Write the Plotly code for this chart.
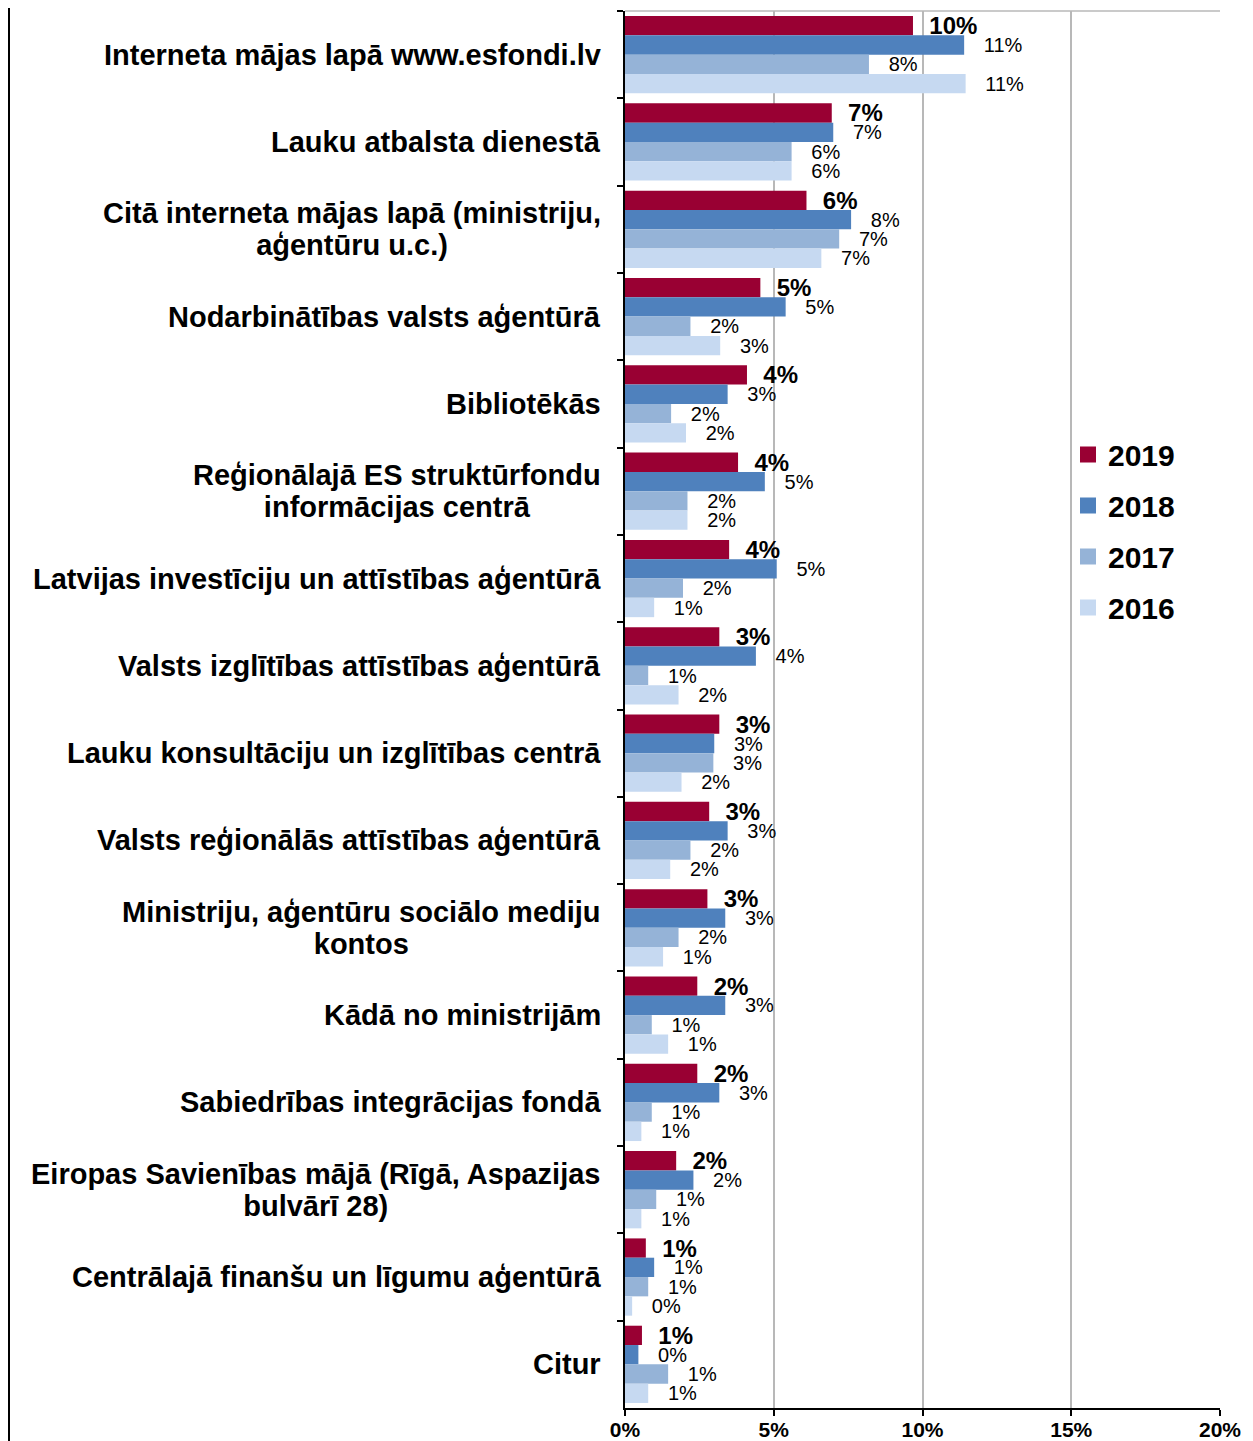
import plotly.graph_objects as go

FONT = 'Liberation Sans, Arial, sans-serif'
C2019 = '#990033'
C2018 = '#4F81BD'
C2017 = '#95B3D7'
C2016 = '#C6D9F1'
GRID = '#B8B8B8'

KATEGORIJAS = [
    'Interneta mājas lapā www.esfondi.lv',
    'Lauku atbalsta dienestā',
    'Citā interneta mājas lapā (ministriju,<br>aģentūru u.c.)',
    'Nodarbinātības valsts aģentūrā',
    'Bibliotēkās',
    'Reģionālajā ES struktūrfondu<br>informācijas centrā',
    'Latvijas investīciju un attīstības aģentūrā',
    'Valsts izglītības attīstības aģentūrā',
    'Lauku konsultāciju un izglītības centrā',
    'Valsts reģionālās attīstības aģentūrā',
    'Ministriju, aģentūru sociālo mediju<br>kontos',
    'Kādā no ministrijām',
    'Sabiedrības integrācijas fondā',
    'Eiropas Savienības mājā (Rīgā, Aspazijas<br>bulvārī 28)',
    'Centrālajā finanšu un līgumu aģentūrā',
    'Citur',
]

V2019 = [9.68, 6.95, 6.1, 4.55, 4.1, 3.8, 3.5, 3.17, 3.17, 2.83, 2.77, 2.43, 2.43, 1.72, 0.7, 0.57]
V2018 = [11.4, 7.0, 7.6, 5.4, 3.45, 4.7, 5.1, 4.4, 3.0, 3.45, 3.37, 3.37, 3.17, 2.3, 0.98, 0.45]
V2017 = [8.2, 5.6, 7.2, 2.2, 1.55, 2.1, 1.95, 0.78, 2.97, 2.2, 1.8, 0.9, 0.9, 1.05, 0.78, 1.45]
V2016 = [11.45, 5.6, 6.6, 3.2, 2.05, 2.1, 0.98, 1.8, 1.9, 1.52, 1.28, 1.45, 0.55, 0.55, 0.24, 0.78]

X_TICKS = [0, 5, 10, 15, 20]

# lapai ir 8px atkāpe, tāpēc viss pārbīdīts par 8px
W, H = 1240, 1433
ML, MR, MT, MB = 617, 28, 3, 33
PW = W - ML - MR
PH = H - MT - MB

series = [
    ('2019', V2019, C2019, True),
    ('2018', V2018, C2018, False),
    ('2017', V2017, C2017, False),
    ('2016', V2016, C2016, False),
]

fig = go.Figure()
for name, vals, col, bold in series:
    pad = '\u00a0\u00a0' if bold else '\u00a0\u00a0\u00a0'
    txt = [pad + f'{v:.0f}%' for v in vals]
    fig.add_trace(go.Bar(
        name=name, y=KATEGORIJAS, x=vals, orientation='h',
        marker=dict(color=col, line=dict(width=0)),
        text=txt, textposition='outside', constraintext='none',
        cliponaxis=False, showlegend=False,
        textfont=dict(family=FONT, size=24 if bold else 20, color='black',
                      weight='bold' if bold else 'normal'),
    ))

# leģendas kvadrātiņi
for name, vals, col, bold in series:
    fig.add_trace(go.Scatter(
        x=[None], y=[None], mode='markers', name=name,
        marker=dict(symbol='square', size=16, color=col),
        legendgroup=name,
    ))

# kategoriju nosaukumi; divrindu tekstiem ciešāka rindstarpa
LBL_FONT = dict(family=FONT, size=29, color='black', weight='bold')
for k in KATEGORIJAS:
    if '<br>' not in k:
        fig.add_annotation(
            x=0, xref='paper', y=k, yref='y', xanchor='right', yanchor='middle',
            xshift=-22, text=k, showarrow=False, align='center', font=LBL_FONT,
        )
        continue
    l1, l2 = k.split('<br>')
    fig.add_annotation(
        x=0, xref='paper', y=k, yref='y', xanchor='right', yanchor='middle',
        xshift=-22, yshift=16, text=l1, showarrow=False, font=LBL_FONT,
    )
    fig.add_annotation(
        x=0, xref='paper', y=k, yref='y', xanchor='right', yanchor='middle',
        xshift=-22, yshift=3, showarrow=False, align='center', font=LBL_FONT,
        text=f'<span style="color:rgba(0,0,0,0)">{l1}</span><br>{l2}',
    )

# augšējā robeža un kreisā rāmja līnija
fig.add_shape(type='line', xref='paper', yref='paper', x0=0, x1=1, y0=1, y1=1,
              line=dict(color=GRID, width=1.5))
fig.add_shape(type='line', xref='paper', yref='paper',
              x0=(1 - ML) / PW, x1=(1 - ML) / PW,
              y0=-(MB + 30) / PH, y1=1 + MT / PH,
              line=dict(color='black', width=2))

fig.update_layout(
    width=W, height=H,
    margin=dict(l=ML, r=MR, t=MT, b=MB, autoexpand=False),
    paper_bgcolor='white', plot_bgcolor='white',
    font=dict(family=FONT, color='black'),
    barmode='group', bargap=0.115, bargroupgap=0,
    showlegend=True,
    legend=dict(x=(1060 - ML) / PW, xanchor='left',
                y=1 - (523 - MT) / PH, yanchor='middle',
                bgcolor='rgba(0,0,0,0)', traceorder='grouped',
                tracegroupgap=9,
                font=dict(family=FONT, size=30, color='black', weight='bold')),
    xaxis=dict(range=[0, 20], tickvals=X_TICKS,
               ticktext=[f'{t}%' for t in X_TICKS],
               showgrid=True, gridcolor=GRID, gridwidth=1.5,
               zeroline=False, showline=True, linecolor='black', linewidth=2,
               ticks='outside', ticklen=6, tickwidth=2, tickcolor='black',
               ticklabelstandoff=-4, automargin=False,
               tickfont=dict(family=FONT, size=21, color='black', weight='bold')),
    yaxis=dict(categoryorder='array', categoryarray=KATEGORIJAS,
               range=[len(KATEGORIJAS) - 0.5, -0.5], automargin=False,
               showticklabels=False, showgrid=False, zeroline=False,
               showline=True, linecolor='black', linewidth=2,
               ticks='outside', tickson='boundaries', ticklen=6,
               tickwidth=2, tickcolor='black'),
)

fig.write_html('out.html')
